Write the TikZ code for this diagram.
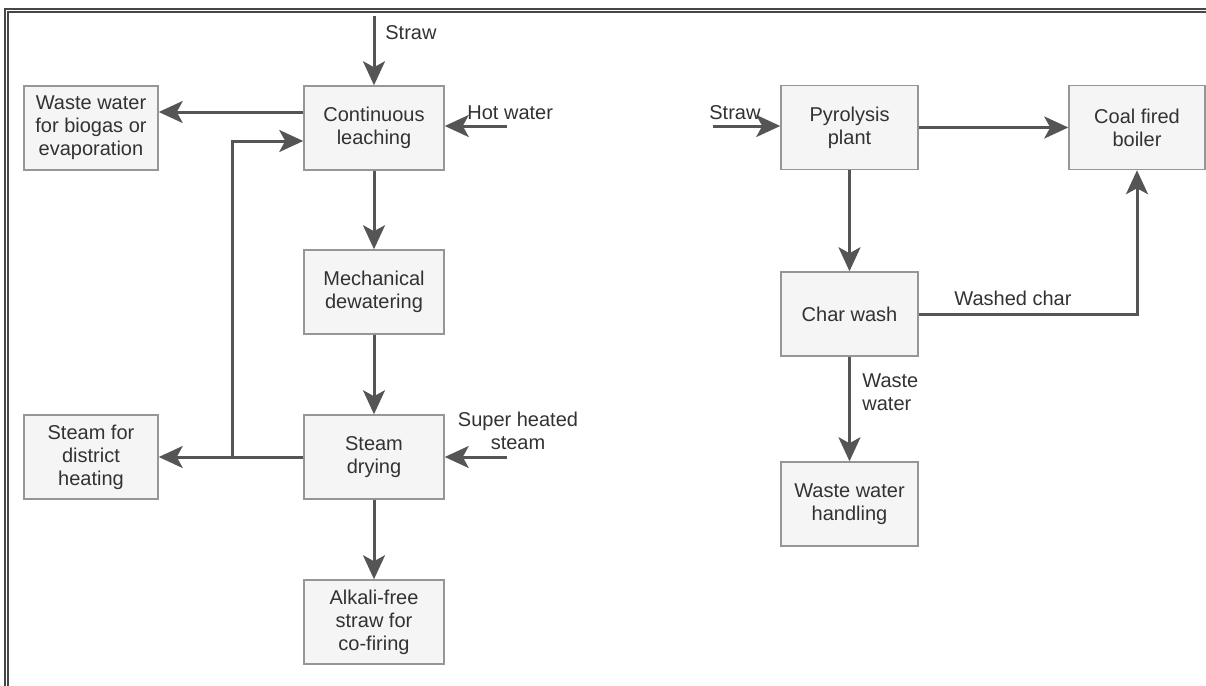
\documentclass[tikz,border=0pt]{standalone}
\usepackage{fontspec}
\setmainfont{Liberation Sans}
\usetikzlibrary{arrows.meta}
\definecolor{boxfill}{RGB}{245,245,245}
\definecolor{boxline}{RGB}{150,150,150}
\definecolor{flowgray}{RGB}{85,85,85}
\definecolor{textgray}{RGB}{50,50,50}
\definecolor{framegray}{RGB}{70,70,70}

\begin{document}
\begin{tikzpicture}[x=0.5pt,y=-0.5pt,
    stage/.style={draw=boxline,line width=0.75pt,fill=boxfill,minimum height=42pt,
        minimum width=70pt,align=center,text=textgray,inner sep=2pt,
        font=\fontsize{10pt}{11.5pt}\selectfont},
    side/.style={stage,minimum width=67pt},
    flow/.style={draw=flowgray,line width=1.5pt,-{Stealth[length=12pt,width=11pt,inset=3pt]}},
    lbl/.style={text=textgray,inner sep=0pt,align=center,font=\fontsize{10pt}{11.5pt}\selectfont}]
            \useasboundingbox (0,0) rectangle (1206,686);
            \draw[framegray,line width=0.6pt] (5,686) |- (1206,9);
            \draw[framegray,line width=0.6pt] (8,686) |- (1206,12);

            \node[stage] (leach) at (374,128) {Continuous\\leaching};
            \node[side] (waste) at (91,128) {Waste water\\for biogas or\\evaporation};
            \node[stage] (mech) at (374,292) {Mechanical\\dewatering};
            \node[stage] (dry) at (374,457) {Steam\\drying};
            \node[side] (heat) at (91,457) {Steam for\\district\\heating};
            \node[stage] (alkali) at (374,622) {Alkali-free\\straw for\\co-firing};

            \node[stage,minimum width=68.5pt] (pyro) at (849.5,127.5) {Pyrolysis\\plant};
            \node[stage,minimum width=68pt] (boiler) at (1137,127.5) {Coal fired\\boiler};
            \node[stage,minimum width=68.5pt] (wash) at (849.5,314) {Char wash};
            \node[stage,minimum width=68.5pt] (handle) at (849.5,504) {Waste water\\handling};

            \coordinate (strawin) at (374,16);
            \coordinate (hotin) at (507,126);
            \coordinate (split) at (232,457);
            \coordinate (steamin) at (507,457);
            \coordinate (strawin2) at (713,126);

            \draw[flow] (strawin) -- (leach);
            \draw[flow] (hotin) -- (leach.east |- hotin);
            \draw[flow] ([yshift=8pt]leach.west) -- ([yshift=8pt]waste.east);
            \draw[flow] (leach) -- (mech);
            \draw[flow] (mech) -- (dry);
            \draw[flow] (dry) -- (alkali);
            \draw[flow] (dry) -- (heat);
            \draw[flow] (split) |- ([yshift=-6.5pt]leach.west);
            \draw[flow] (steamin) -- (dry);

            \draw[flow] (strawin2) -- (pyro.west |- strawin2);
            \draw[flow] (pyro) -- (boiler);
            \draw[flow] (pyro) -- (wash);
            \draw[flow] (wash.east) -| (boiler);
            \draw[flow] (wash) -- (handle);

            \node[lbl,anchor=west] (strawlbl) at (385,33) {Straw};
            \node[lbl,anchor=west] (hotlbl) at (467,113) {Hot water};
            \node[lbl] (steamlbl) at (518,431) {Super heated\\steam};
            \node[lbl,anchor=west] (strawlbl2) at (709,113) {Straw};
            \node[lbl] (charlbl) at (1013,298) {Washed char};
            \node[lbl,anchor=west,align=left] (wwlbl) at (862,392) {Waste\\water};
        \end{tikzpicture}
\end{document}
